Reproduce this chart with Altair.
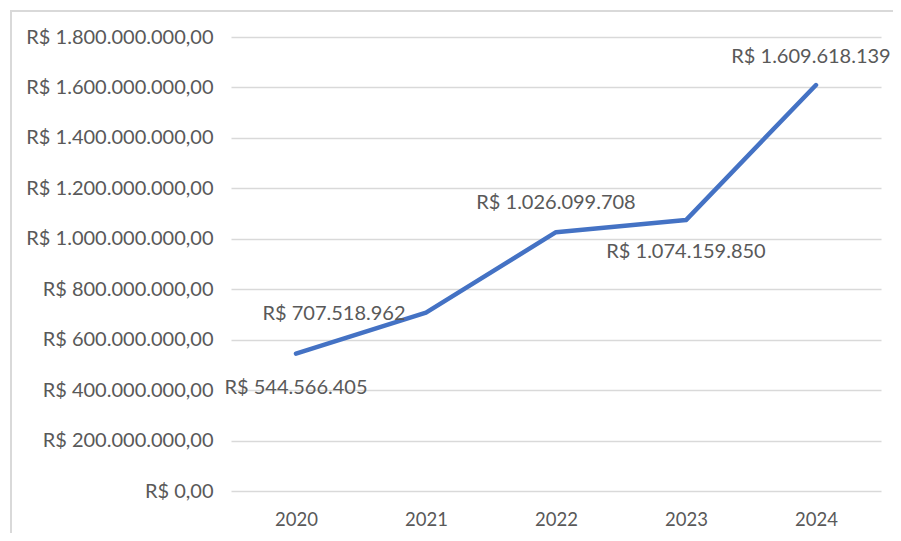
import altair as alt
import pandas as pd

years = ["2020", "2021", "2022", "2023", "2024"]
values = [544566405, 707518962, 1026099708, 1074159850, 1609618139]

df = pd.DataFrame({"ano": years, "valor": values})

FONT = "Lato"
GRAY = "#595959"

base = alt.Chart(df).encode(
    x=alt.X("ano:N", sort=years, title=None,
            scale=alt.Scale(paddingInner=0, paddingOuter=0.5, padding=0.5),
            axis=alt.Axis(labelAngle=0, domain=False, ticks=False, grid=False,
                          labelPadding=19, labelFont=FONT, labelFontSize=18.5,
                          labelColor=GRAY)),
    y=alt.Y("valor:Q", title=None,
            scale=alt.Scale(domain=[0, 1800000000], nice=False),
            axis=alt.Axis(values=list(range(0, 1800000001, 200000000)),
                          format="$,.2f", domain=False, ticks=False,
                          labelPadding=18, labelFont=FONT, labelFontSize=20,
                          labelLimit=0,
                          labelColor=GRAY, gridColor="#d9d9d9", gridWidth=1.3)),
)

line = base.mark_line(color="#4472C4", strokeWidth=4.5, strokeCap="round",
                      strokeJoin="round")

offsets = {"2020": (0, 34), "2021": (-92, 1), "2022": (0, -29),
           "2023": (0, 32), "2024": (-5, -28)}
labels = []
for y in years:
    dx, dy = offsets[y]
    labels.append(
        base.transform_filter(alt.datum.ano == y)
        .mark_text(font=FONT, fontSize=20, color=GRAY, dx=dx, dy=dy,
                   align="center", baseline="middle")
        .encode(text=alt.Text("valor:Q", format="$,.0f"))
    )

frame_df = pd.DataFrame({"a": [0]})
frame_top = alt.Chart(frame_df).mark_rule(stroke="#d9d9d9", strokeWidth=2).encode(
    x=alt.value(-220), x2=alt.value(1000), y=alt.value(-26)
)
frame_left = alt.Chart(frame_df).mark_rule(stroke="#d9d9d9", strokeWidth=2).encode(
    x=alt.value(-220), y=alt.value(-27), y2=alt.value(1000)
)

chart = alt.layer(frame_top, frame_left, line, *labels).properties(
    width=650, height=454,
    autosize=alt.AutoSizeParams(type="none"),
    padding={"left": 223, "top": 29, "right": 12, "bottom": 42},
).configure(
    locale={"number": {"decimal": ",", "thousands": ".", "grouping": [3],
                       "currency": ["R$ ", ""]}}
).configure_view(stroke=None)

chart.save("out.html", embed_options={"renderer": "svg", "actions": False})
